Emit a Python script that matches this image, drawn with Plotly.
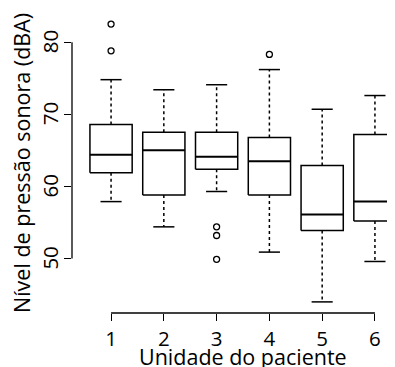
import plotly.graph_objects as go

# ---- data ----
categories = [1, 2, 3, 4, 5, 6]
tick_labels = ["1", "2", "3", "4", "5", "6"]
lower_whisker = [57.9, 54.4, 59.3, 50.9, 44.0, 49.6]
q1 = [61.9, 58.8, 62.4, 58.8, 53.9, 55.2]
median = [64.4, 65.0, 64.1, 63.5, 56.1, 57.9]
q3 = [68.6, 67.5, 67.5, 66.8, 62.9, 67.2]
upper_whisker = [74.8, 73.4, 74.1, 76.2, 70.7, 72.6]
outlier_group = [1, 1, 3, 3, 3, 4]
outlier_value = [82.5, 78.8, 54.4, 53.2, 49.9, 78.3]
y_ticks = [50, 60, 70, 80]
y_tick_labels = ["50", "60", "70", "80"]

FONT = "Open Sans"
BOX_HALF = 0.4
CAP_HALF = 0.2
LW = 1.5

box_x, box_y = [], []
med_x, med_y = [], []
wh_x, wh_y = [], []
cap_x, cap_y = [], []
for c, lo, a, m, b, hi in zip(categories, lower_whisker, q1, median, q3, upper_whisker):
    box_x += [c - BOX_HALF, c + BOX_HALF, c + BOX_HALF, c - BOX_HALF, c - BOX_HALF, None]
    box_y += [a, a, b, b, a, None]
    med_x += [c - BOX_HALF, c + BOX_HALF, None]
    med_y += [m, m, None]
    wh_x += [c, c, None, c, c, None]
    wh_y += [b, hi, None, a, lo, None]
    cap_x += [c - CAP_HALF, c + CAP_HALF, None, c - CAP_HALF, c + CAP_HALF, None]
    cap_y += [hi, hi, None, lo, lo, None]

fig = go.Figure()
fig.add_trace(go.Scatter(x=wh_x, y=wh_y, mode="lines",
                         line=dict(color="black", width=LW, dash="3px,3px"), hoverinfo="skip"))
fig.add_trace(go.Scatter(x=cap_x, y=cap_y, mode="lines",
                         line=dict(color="black", width=LW), hoverinfo="skip"))
fig.add_trace(go.Scatter(x=box_x, y=box_y, mode="lines",
                         line=dict(color="black", width=LW), hoverinfo="skip"))
fig.add_trace(go.Scatter(x=med_x, y=med_y, mode="lines",
                         line=dict(color="black", width=2), hoverinfo="skip"))
fig.add_trace(go.Scatter(x=outlier_group, y=outlier_value, mode="markers",
                         marker=dict(symbol="circle-open", size=6, color="black",
                                     line=dict(width=1.3, color="black"))))

# R-style axis extents
xlo, xhi = 0.5, len(categories) + 0.5
xpad = (xhi - xlo) * 0.04
ymin = min(lower_whisker + outlier_value)
ymax = max(upper_whisker + outlier_value)
ypad = (ymax - ymin) * 0.04

# page body has an 8px margin; size the figure to fit the window
OFF = 8
W, H = 395 - OFF, 367 - OFF
L, R, T, B = 72 - OFF, 0, 13 - OFF, 54
plot_w = W - L - R
plot_h = H - T - B
x_full_lo = xlo - xpad
x_full_hi = xhi + xpad
units_per_px = (x_full_hi - x_full_lo) / (414.0 - 72.0)
x_range_hi = x_full_lo + plot_w * units_per_px

TICK_SIZE = 20.5
TITLE_SIZE = 21.5

annotations = [
    dict(text=lab, xref="paper", yref="y", x=(50 - OFF - L) / plot_w, y=v,
         textangle=-90, xanchor="center", yanchor="middle", showarrow=False,
         font=dict(size=TICK_SIZE, family=FONT))
    for v, lab in zip(y_ticks, y_tick_labels)
]
annotations += [
    dict(text="Unidade do paciente", xref="x", yref="paper", x=(xlo + xhi) / 2,
         y=-(348 - (H - B)) / plot_h,
         xanchor="center", yanchor="middle", showarrow=False,
         font=dict(size=TITLE_SIZE, family=FONT)),
    dict(text="Nível de pressão sonora (dBA)", xref="paper", yref="paper",
         x=(13 - L) / plot_w, y=0.5, textangle=-90, xanchor="center", yanchor="middle",
         showarrow=False, font=dict(size=TITLE_SIZE, family=FONT)),
]

fig.update_layout(
    width=W, height=H,
    margin=dict(l=L, r=R, t=T, b=B, autoexpand=False),
    paper_bgcolor="white", plot_bgcolor="white",
    showlegend=False,
    font=dict(family=FONT, color="black", size=TICK_SIZE),
    xaxis=dict(range=[x_full_lo, x_range_hi], showgrid=False, zeroline=False, showline=False,
               automargin=False,
               tickmode="array", tickvals=categories, ticktext=tick_labels,
               ticks="outside", ticklen=7, tickwidth=1.3, tickcolor="black",
               tickfont=dict(size=TICK_SIZE, family=FONT)),
    yaxis=dict(range=[ymin - ypad, ymax + ypad], showgrid=False, zeroline=False, showline=False,
               automargin=False, showticklabels=False,
               tickmode="array", tickvals=y_ticks, ticks="outside", ticklen=7,
               tickwidth=1.3, tickcolor="black"),
    shapes=[
        dict(type="line", xref="x domain", yref="y", x0=0, x1=0, y0=y_ticks[0], y1=y_ticks[-1],
             line=dict(color="black", width=1.3)),
        dict(type="line", xref="x", yref="y domain", x0=categories[0], x1=categories[-1], y0=0, y1=0,
             line=dict(color="black", width=1.3)),
    ],
    annotations=annotations,
)

fig.write_html("out.html")
